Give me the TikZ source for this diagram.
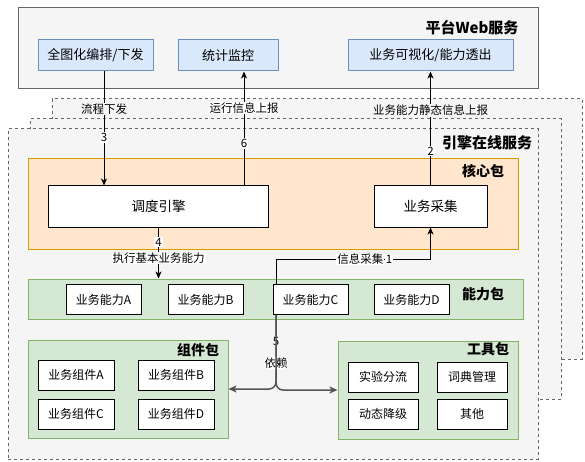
\documentclass[tikz,border=0pt]{standalone}
\usepackage{fontspec}
\usetikzlibrary{positioning,arrows.meta,calc}
\newfontfamily\cjk{Noto Sans CJK SC}
\definecolor{paneGray}{HTML}{F5F5F5}
\definecolor{lineGray}{HTML}{666666}
\definecolor{depGray}{HTML}{555555}
\definecolor{btnBlue}{HTML}{DAE8FC}
\definecolor{btnEdge}{HTML}{6C8EBF}
\definecolor{coreFill}{HTML}{FFE6CC}
\definecolor{coreEdge}{HTML}{D79B00}
\definecolor{pkgFill}{HTML}{D5E8D4}
\definecolor{pkgEdge}{HTML}{82B366}

\begin{document}
\begin{tikzpicture}[
    x=1pt, y=-1pt,
    font=\cjk,
    pane/.style={rectangle, draw=lineGray, fill=paneGray, line width=1pt},
    layer/.style={pane, dash pattern=on 3pt off 3pt},
    button/.style={rectangle, draw=btnEdge, fill=btnBlue, line width=1pt, minimum height=31pt, font=\cjk\fontsize{13}{15}\selectfont},
    core pkg/.style={rectangle, draw=coreEdge, fill=coreFill, line width=1pt},
    green pkg/.style={rectangle, draw=pkgEdge, fill=pkgFill, line width=1pt},
    unit/.style={rectangle, draw=black, fill=white, line width=1pt, minimum height=30pt, font=\cjk\fontsize{12}{14}\selectfont},
    pkg title/.style={font=\cjk\fontsize{14}{16}\selectfont\bfseries},
    flow/.style={draw=black, line width=1pt, -{Stealth[length=7pt, width=6pt, inset=2pt]}},
    dep/.style={draw=depGray, line width=1.5pt, rounded corners=7pt, -{Stealth[length=8pt, width=7pt, inset=2pt]}},
    edge note/.style={fill=white, inner sep=1pt, font=\cjk\fontsize{11.5}{13}\selectfont}
]
  \useasboundingbox (0,0) rectangle (585,462);

  % platform web service
  \node[pane, minimum width=520pt, minimum height=81pt] (web) at (278,48.5) {};
  \node[pkg title, font=\cjk\fontsize{15}{17}\selectfont\bfseries] (webT) at (472,28) {平台Web服务};
  \node[button, minimum width=115pt] (plan) at (95.5,55.5) {全图化编排/下发};
  \node[button, minimum width=100pt] (monitor) at (228,55.5) {统计监控};
  \node[button, minimum width=165pt] (visual) at (430.5,55.5) {业务可视化/能力透出};

  % engine online service (stacked instances)
  \node[layer, minimum width=530pt, minimum height=260pt] (layerBack) at (317,229) {};
  \node[layer, minimum width=531pt, minimum height=280pt] (layerMid) at (295.5,259) {};
  \node[layer, minimum width=530pt, minimum height=330pt] (engine) at (273,294) {};
  \node[pkg title, font=\cjk\fontsize{15}{17}\selectfont\bfseries] (engineT) at (487,143) {引擎在线服务};

  % core package
  \node[core pkg, minimum width=490pt, minimum height=90pt] (corePkg) at (273,204) {};
  \node[pkg title] (coreT) at (483,171) {核心包};
  \node[unit, minimum width=220pt, minimum height=41pt, font=\cjk\fontsize{13.5}{15}\selectfont] (sched) at (158.5,206.5) {调度引擎};
  \node[unit, minimum width=113pt, minimum height=41pt, font=\cjk\fontsize{13.5}{15}\selectfont] (collect) at (430.5,206.5) {业务采集};

  % capability package
  \node[green pkg, minimum width=495pt, minimum height=40pt] (capPkg) at (275.5,299) {};
  \node[pkg title] (capT) at (483,294) {能力包};
  \node[unit, minimum width=75pt] (capA) at (103.5,299.5) {业务能力A};
  \node[unit, minimum width=75pt] (capB) at (205.5,299.5) {业务能力B};
  \node[unit, minimum width=75pt] (capC) at (310.5,299.5) {业务能力C};
  \node[unit, minimum width=75pt] (capD) at (411.5,299.5) {业务能力D};

  % component package
  \node[green pkg, minimum width=200pt, minimum height=98pt] (compPkg) at (128,389) {};
  \node[pkg title] (compT) at (198,350) {组件包};
  \node[unit, minimum width=76pt] (compA) at (76,375) {业务组件A};
  \node[unit, minimum width=76pt] (compB) at (176,375) {业务组件B};
  \node[unit, minimum width=76pt] (compC) at (76,414) {业务组件C};
  \node[unit, minimum width=76pt] (compD) at (176,414) {业务组件D};

  % tool package
  \node[green pkg, minimum width=180pt, minimum height=98pt] (toolPkg) at (428,390) {};
  \node[pkg title] (toolT) at (488,349) {工具包};
  \node[unit, minimum width=70pt] (split) at (383,377) {实验分流};
  \node[unit, minimum width=70pt] (dict) at (472,377) {词典管理};
  \node[unit, minimum width=70pt] (degrade) at (383,414) {动态降级};
  \node[unit, minimum width=70pt] (other) at (472,414) {其他};

  % connectors
  \draw[flow] ([xshift=8.5pt]plan.south) -- node[edge note, fill=paneGray, pos=0.33] {流程下发} node[edge note, pos=0.58] {3} ([xshift=-54.5pt]sched.north);
  \draw[flow] ([xshift=85.5pt]sched.north) -- node[edge note, pos=0.37] {6} node[edge note, pos=0.68] {运行信息上报} ([xshift=16pt]monitor.south);
  \draw[flow] (collect.north) -- node[edge note, pos=0.30] {2} node[edge note, fill=paneGray, pos=0.66] {业务能力静态信息上报} (visual.south);
  \draw[flow] (sched.south) -- node[edge note, pos=0.29] {4} node[edge note, pos=0.6] {执行基本业务能力} (sched.south |- capPkg.north);
  \draw[flow] ([xshift=-34.5pt]capC.north) -- ++(0,-25) -| node[edge note, pos=0.273] {信息采集} node[edge note, pos=0.366] {1} (collect.south);
  \draw[dep] ([xshift=-34.5pt]capC.south) |- node[edge note, pos=0.176] {5} node[edge note, pos=0.324] {依赖} (compPkg.east);
  \draw[dep] ([xshift=-34.5pt]capC.south) |- (toolPkg.west);
\end{tikzpicture}
\end{document}
